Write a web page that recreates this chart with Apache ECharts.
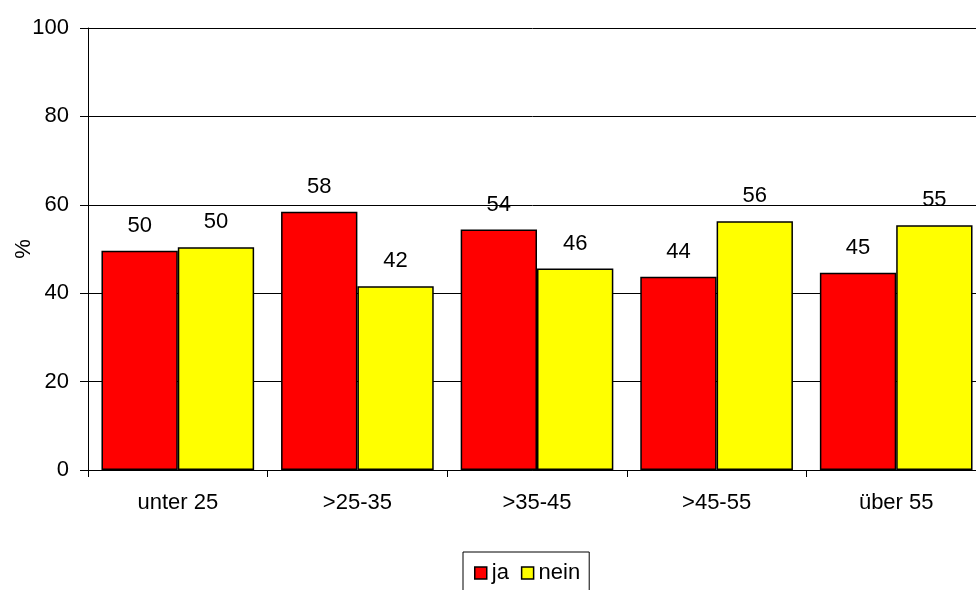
<!DOCTYPE html>
<html>
<head>
<meta charset="utf-8">
<script src="https://cdn.jsdelivr.net/npm/echarts@6/dist/echarts.min.js"></script>
<style>
html,body{margin:0;padding:0;background:#fff;}
#chart{width:976px;height:590px;}
</style>
</head>
<body>
<div id="chart"></div>
<script>
var categories = ['unter 25', '>25-35', '>35-45', '>45-55', 'über 55'];
var jaValues = [49.6, 58.4, 54.4, 43.7, 44.6];
var neinValues = [50.4, 41.6, 45.6, 56.3, 55.4];
var yTicks = [0, 20, 40, 60, 80, 100];

var font = 'Liberation Sans, Arial, sans-serif';
var fs = 22;
var chart = echarts.init(document.getElementById('chart'), null, {renderer: 'canvas'});

function barSeries(name, data, color) {
  return {
    name: name,
    type: 'bar',
    data: data,
    barGap: '0%',
    barCategoryGap: '15%',
    itemStyle: {color: color, borderColor: '#000', borderWidth: 1.5},
    label: {
      show: true,
      position: 'top',
      distance: 14,
      color: '#000',
      fontFamily: font,
      fontSize: fs,
      formatter: function (p) { return Math.round(p.value); }
    }
  };
}

chart.setOption({
  animation: false,
  backgroundColor: '#fff',
  textStyle: {fontFamily: font},
  grid: {left: 88, top: 28, right: -10, bottom: 120, containLabel: false, outerBoundsMode: 'none'},
  legend: {
    data: [
      {name: 'ja', itemStyle: {color: '#ff0000', borderColor: '#000', borderWidth: 1.5}},
      {name: 'nein', itemStyle: {color: '#ffff00', borderColor: '#000', borderWidth: 1.5}}
    ],
    left: 463,
    top: 552,
    icon: 'rect',
    itemWidth: 12,
    itemHeight: 12,
    itemGap: 12,
    padding: [10, 9, 20, 11],
    borderColor: '#000',
    borderWidth: 1,
    textStyle: {fontFamily: font, fontSize: fs, color: '#000'}
  },
  xAxis: {
    type: 'category',
    data: categories,
    axisLine: {lineStyle: {color: '#000', width: 1}},
    axisTick: {show: true, length: 7, alignWithLabel: false, lineStyle: {color: '#000'}},
    axisLabel: {color: '#000', fontFamily: font, fontSize: fs, margin: 22, interval: 0},
    splitLine: {show: false}
  },
  yAxis: {
    type: 'value',
    min: yTicks[0],
    max: yTicks[yTicks.length - 1],
    interval: yTicks[1] - yTicks[0],
    name: '%',
    nameLocation: 'middle',
    nameGap: 53,
    nameRotate: 90,
    nameMoveOverlap: false,
    nameTextStyle: {color: '#000', fontFamily: font, fontSize: fs},
    axisLine: {show: true, lineStyle: {color: '#000', width: 1}},
    axisTick: {show: true, length: 8, lineStyle: {color: '#000'}},
    axisLabel: {color: '#000', fontFamily: font, fontSize: fs, margin: 19},
    splitLine: {show: true, lineStyle: {color: '#000', width: 1}}
  },
  series: [
    barSeries('ja', jaValues, '#ff0000'),
    barSeries('nein', neinValues, '#ffff00')
  ]
});
</script>
</body>
</html>
